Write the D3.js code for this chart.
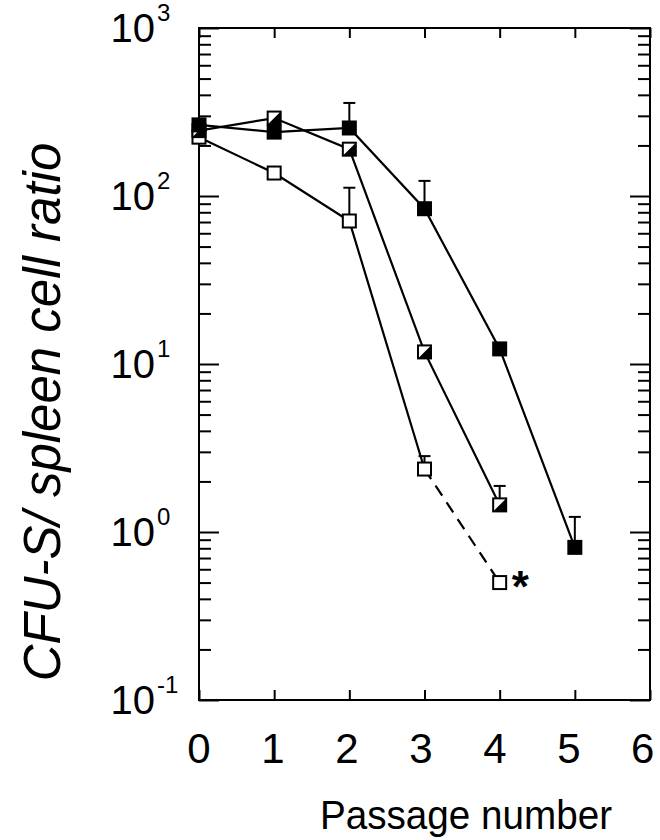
<!DOCTYPE html>
<html>
<head>
<meta charset="utf-8">
<script src="https://cdn.jsdelivr.net/npm/d3@7"></script>
<style>
  body { margin: 0; background: #fff; }
  text { font-family: "Liberation Sans", Arial, Helvetica, sans-serif; fill: #000; }
</style>
</head>
<body>
<div id="chart"></div>
<script>
// Data
var passages = [0, 1, 2, 3, 4, 5];
var xTicks = [0, 1, 2, 3, 4, 5, 6];
var yDecades = [-1, 0, 1, 2, 3];

// filled squares
var filledVals = [265, 240, 254, 84, 12.3, 0.81];
var filledErr = [null, null, 358, 123, null, 1.23];
// half-filled squares
var halfVals = [245, 291, 190, 11.8, 1.45];
var halfErr = [null, null, null, null, 1.88];
// open squares (last segment dashed)
var openVals = [224, 137, 71, 2.37, 0.50];
var openErr = [null, null, 112, 2.83, null];

var width = 660,
	height = 840,
	pLeft = 199, pRight = 650, pTop = 28, pBottom = 700;

var x = d3.scaleLinear().domain([0, 6]).range([pLeft, pRight]);
var y = d3.scaleLog().domain([0.1, 1000]).range([pBottom, pTop]);

var svg = d3.select("#chart").append("svg")
	.attr("width", width)
	.attr("height", height);

// minor / major tick values
var majorY = yDecades.map(function(e) { return Math.pow(10, e); });
var minorY = [];
yDecades.slice(0, -1).forEach(function(e) {
	for (var k = 2; k <= 9; k++) minorY.push(k * Math.pow(10, e));
});

function styleAxis(g) {
	g.select(".domain").remove();
	g.selectAll(".tick line").attr("stroke", "#000").attr("stroke-width", 2);
	g.selectAll(".tick text").remove();
}

// y axes (ticks pointing inward, both sides)
svg.append("g").attr("transform", "translate(" + pLeft + ",0)")
	.call(d3.axisLeft(y).tickValues(majorY).tickSizeInner(-20).tickSizeOuter(0)).call(styleAxis);
svg.append("g").attr("transform", "translate(" + pLeft + ",0)")
	.call(d3.axisLeft(y).tickValues(minorY).tickSizeInner(-12).tickSizeOuter(0)).call(styleAxis);
svg.append("g").attr("transform", "translate(" + pRight + ",0)")
	.call(d3.axisRight(y).tickValues(majorY).tickSizeInner(-20).tickSizeOuter(0)).call(styleAxis);
svg.append("g").attr("transform", "translate(" + pRight + ",0)")
	.call(d3.axisRight(y).tickValues(minorY).tickSizeInner(-12).tickSizeOuter(0)).call(styleAxis);

// x axes
svg.append("g").attr("transform", "translate(0," + pBottom + ")")
	.call(d3.axisBottom(x).tickValues(xTicks).tickSizeInner(-10).tickSizeOuter(0)).call(styleAxis);
svg.append("g").attr("transform", "translate(0," + pTop + ")")
	.call(d3.axisTop(x).tickValues(xTicks).tickSizeInner(-10).tickSizeOuter(0)).call(styleAxis);

// frame
svg.append("rect")
	.attr("x", pLeft).attr("y", pTop)
	.attr("width", pRight - pLeft).attr("height", pBottom - pTop)
	.attr("fill", "none").attr("stroke", "#000").attr("stroke-width", 2);

// y tick labels: 10^n
yDecades.forEach(function(e) {
	svg.append("text")
		.attr("x", 155)
		.attr("y", y(Math.pow(10, e)) + 14)
		.attr("text-anchor", "end")
		.style("font-size", "40px")
		.text("10");
	svg.append("text")
		.attr("x", 157)
		.attr("y", y(Math.pow(10, e)) - 7)
		.style("font-size", "24px")
		.text(e < 0 ? "-" + Math.abs(e) : e);
});

// x tick labels
svg.selectAll(".xlab")
	.data(xTicks)
  .enter().append("text")
	.attr("class", "xlab")
	.attr("x", function(d) { return x(d) - d * 1.2; })
	.attr("y", 763)
	.attr("text-anchor", "middle")
	.style("font-size", "42px")
	.text(function(d) { return d; });

svg.append("text")
	.attr("x", 466)
	.attr("y", 829)
	.attr("text-anchor", "middle")
	.attr("textLength", 292)
	.attr("lengthAdjust", "spacingAndGlyphs")
	.style("font-size", "41px")
	.text("Passage number");

svg.append("text")
	.attr("transform", "translate(60,412) rotate(-90)")
	.attr("text-anchor", "middle")
	.style("font-size", "51px")
	.style("font-style", "italic")
	.text("CFU-S/ spleen cell ratio");

var line = d3.line()
	.x(function(d) { return x(d[0]); })
	.y(function(d) { return y(d[1]); });

function pairs(vals) {
	return vals.map(function(v, i) { return [passages[i], v]; });
}

// lines
var openPts = pairs(openVals);
svg.append("path").datum(openPts.slice(0, 4)).attr("d", line)
	.attr("fill", "none").attr("stroke", "#000").attr("stroke-width", 2.2);
svg.append("path").datum(openPts.slice(3)).attr("d", line)
	.attr("fill", "none").attr("stroke", "#000").attr("stroke-width", 2.2)
	.attr("stroke-dasharray", "12,8");
svg.append("path").datum(pairs(halfVals)).attr("d", line)
	.attr("fill", "none").attr("stroke", "#000").attr("stroke-width", 2.2);
svg.append("path").datum(pairs(filledVals)).attr("d", line)
	.attr("fill", "none").attr("stroke", "#000").attr("stroke-width", 2.2);

// error bars (upward T)
function errBars(vals, errs) {
	var d = [];
	errs.forEach(function(e, i) { if (e != null) d.push([passages[i], vals[i], e]); });
	var g = svg.append("g");
	g.selectAll("line.v").data(d).enter().append("line")
		.attr("x1", function(d) { return x(d[0]); })
		.attr("x2", function(d) { return x(d[0]); })
		.attr("y1", function(d) { return y(d[1]); })
		.attr("y2", function(d) { return y(d[2]); })
		.attr("stroke", "#000").attr("stroke-width", 2);
	g.selectAll("line.c").data(d).enter().append("line")
		.attr("x1", function(d) { return x(d[0]) - 6; })
		.attr("x2", function(d) { return x(d[0]) + 6; })
		.attr("y1", function(d) { return y(d[2]); })
		.attr("y2", function(d) { return y(d[2]); })
		.attr("stroke", "#000").attr("stroke-width", 2);
}
errBars(openVals, openErr);
errBars(halfVals, halfErr);
errBars(filledVals, filledErr);

var s = 13; // marker size

// open markers
svg.selectAll(".open").data(pairs(openVals)).enter().append("rect")
	.attr("x", function(d) { return x(d[0]) - s / 2; })
	.attr("y", function(d) { return y(d[1]) - s / 2; })
	.attr("width", s).attr("height", s)
	.attr("fill", "#fff").attr("stroke", "#000").attr("stroke-width", 2);

// half markers
var hg = svg.selectAll(".half").data(pairs(halfVals)).enter().append("g")
	.attr("transform", function(d) { return "translate(" + x(d[0]) + "," + y(d[1]) + ")"; });
hg.append("rect")
	.attr("x", -s / 2).attr("y", -s / 2).attr("width", s).attr("height", s)
	.attr("fill", "#fff").attr("stroke", "#000").attr("stroke-width", 2);
hg.append("path")
	.attr("d", "M" + (-s / 2) + "," + (s / 2) + "L" + (s / 2) + "," + (-s / 2) + "L" + (s / 2) + "," + (s / 2) + "Z")
	.attr("fill", "#000");

// filled markers
svg.selectAll(".filled").data(pairs(filledVals)).enter().append("rect")
	.attr("x", function(d) { return x(d[0]) - s / 2; })
	.attr("y", function(d) { return y(d[1]) - s / 2; })
	.attr("width", s).attr("height", s)
	.attr("fill", "#000").attr("stroke", "#000").attr("stroke-width", 2);

// asterisk next to last open point
svg.append("text")
	.attr("x", x(4) + 12)
	.attr("y", y(openVals[4]) + 19)
	.style("font-size", "44px")
	.style("font-weight", "bold")
	.text("*");
</script>
</body>
</html>
